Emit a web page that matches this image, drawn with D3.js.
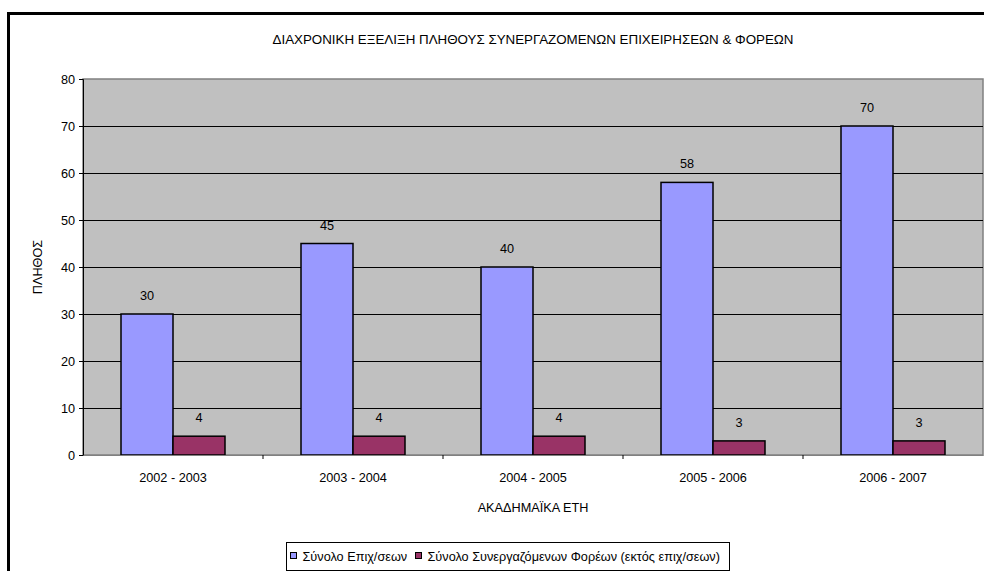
<!DOCTYPE html>
<html>
<head>
<meta charset="utf-8">
<script src="https://cdn.jsdelivr.net/npm/d3@7"></script>
<style>
  body { margin: 0; background: #fff; }
  text { font-family: "Liberation Sans", Arial, sans-serif; fill: #000; }
</style>
</head>
<body>
<div id="chart"></div>
<script>
// data
const years = ['2002 - 2003', '2003 - 2004', '2004 - 2005', '2005 - 2006', '2006 - 2007'];
const companies = [30, 45, 40, 58, 70];
const bodies = [4, 4, 4, 3, 3];
const seriesNames = ['Σύνολο Επιχ/σεων', 'Σύνολο Συνεργαζόμενων Φορέων (εκτός επιχ/σεων)'];
const seriesColors = ['#9999FF', '#993366'];
const yTicks = [0, 10, 20, 30, 40, 50, 60, 70, 80];

const width = 984, height = 571;
const margin = {top: 79, right: 1, bottom: 116, left: 83};
const fs = 12.7;

const svg = d3.select('#chart').append('svg')
    .attr('width', width)
    .attr('height', height);

// outer frame
svg.append('rect')
    .attr('x', 8.5).attr('y', 13.5)
    .attr('width', 1000).attr('height', 600)
    .attr('fill', 'none')
    .attr('stroke', '#000')
    .attr('stroke-width', 3);

const x = d3.scaleBand()
    .domain(years)
    .range([margin.left, width - margin.right]);

const y = d3.scaleLinear()
    .domain([0, 80])
    .range([height - margin.bottom, margin.top]);

// plot background
svg.append('rect')
    .attr('x', margin.left).attr('y', margin.top)
    .attr('width', x.range()[1] - margin.left)
    .attr('height', y(0) - margin.top)
    .attr('fill', '#C0C0C0')
    .attr('stroke', '#808080')
    .attr('stroke-width', 1.5);

// gridlines
svg.append('g')
    .selectAll('line')
    .data(yTicks.filter(d => d > 0 && d < 80))
    .join('line')
    .attr('x1', margin.left).attr('x2', x.range()[1])
    .attr('y1', d => Math.round(y(d)) + 0.5)
    .attr('y2', d => Math.round(y(d)) + 0.5)
    .attr('stroke', '#000')
    .attr('stroke-width', 1);

// bars
const barW = 52;
const groups = svg.append('g').selectAll('g')
    .data(years.map((yr, i) => ({yr, vals: [companies[i], bodies[i]]})))
    .join('g')
    .attr('transform', d => `translate(${x(d.yr) + x.bandwidth() / 2 - barW},0)`);

groups.selectAll('rect')
    .data(d => d.vals)
    .join('rect')
    .attr('x', (d, i) => i * barW)
    .attr('y', d => y(d))
    .attr('width', barW)
    .attr('height', d => y(0) - y(d))
    .attr('fill', (d, i) => seriesColors[i])
    .attr('stroke', '#000')
    .attr('stroke-width', 1.5);

groups.selectAll('text')
    .data(d => d.vals)
    .join('text')
    .attr('x', (d, i) => i * barW + barW / 2)
    .attr('y', d => y(d) - 14)
    .attr('text-anchor', 'middle')
    .attr('font-size', fs)
    .text(d => d);

// y axis
const yAxis = svg.append('g')
    .attr('transform', `translate(${margin.left},0)`)
    .call(d3.axisLeft(y).tickValues(yTicks).tickSize(4).tickPadding(4));
yAxis.select('.domain').attr('stroke', '#000');
yAxis.selectAll('text').attr('font-size', fs).attr('font-family', '"Liberation Sans", Arial, sans-serif');

// x axis
const xAxis = svg.append('g')
    .attr('transform', `translate(0,${y(0)})`)
    .call(d3.axisBottom(x).tickSize(0).tickPadding(18));
xAxis.select('.domain').attr('stroke', '#808080');
xAxis.selectAll('text').attr('font-size', fs).attr('font-family', '"Liberation Sans", Arial, sans-serif');
xAxis.selectAll('line.sep')
    .data(years.slice(1))
    .join('line')
    .attr('x1', d => x(d)).attr('x2', d => x(d))
    .attr('y1', 0).attr('y2', 4)
    .attr('stroke', '#000');

// titles
const cx = (margin.left + x.range()[1]) / 2;
svg.append('text')
    .attr('x', cx).attr('y', 44)
    .attr('text-anchor', 'middle')
    .attr('font-size', 12.5)
    .attr('textLength', 521)
    .attr('lengthAdjust', 'spacingAndGlyphs')
    .text('ΔΙΑΧΡΟΝΙΚΗ ΕΞΕΛΙΞΗ ΠΛΗΘΟΥΣ ΣΥΝΕΡΓΑΖΟΜΕΝΩΝ ΕΠΙΧΕΙΡΗΣΕΩΝ & ΦΟΡΕΩΝ');

svg.append('text')
    .attr('x', cx).attr('y', 512)
    .attr('text-anchor', 'middle')
    .attr('font-size', fs)
    .text('ΑΚΑΔΗΜΑΪΚΑ ΕΤΗ');

svg.append('text')
    .attr('transform', `translate(42,${(margin.top + y(0)) / 2}) rotate(-90)`)
    .attr('text-anchor', 'middle')
    .attr('font-size', fs)
    .text('ΠΛΗΘΟΣ');

// legend
const legend = svg.append('g').attr('transform', 'translate(286.5,542.5)');
legend.append('rect')
    .attr('width', 443).attr('height', 28)
    .attr('fill', '#fff')
    .attr('stroke', '#000');
const legendX = [4, 129];
const items = legend.selectAll('g.item')
    .data(seriesNames)
    .join('g')
    .attr('class', 'item')
    .attr('transform', (d, i) => `translate(${legendX[i]},0)`);
items.append('rect')
    .attr('x', 0).attr('y', 10)
    .attr('width', 6).attr('height', 6)
    .attr('fill', (d, i) => seriesColors[i])
    .attr('stroke', '#000');
items.append('text')
    .attr('x', 12).attr('y', 18)
    .attr('font-size', fs)
    .text(d => d);
</script>
</body>
</html>
